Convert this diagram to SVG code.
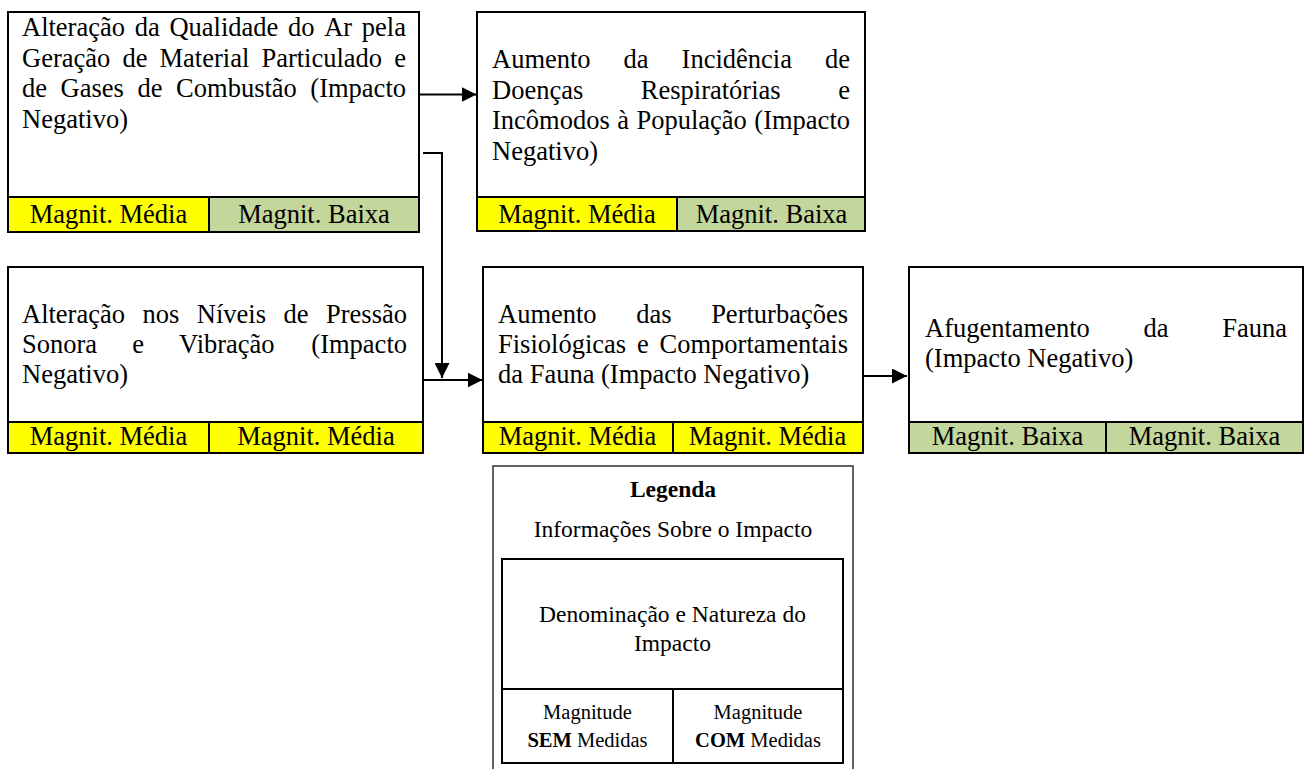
<svg xmlns="http://www.w3.org/2000/svg" width="1306" height="769" viewBox="0 0 1306 769">
  <style>
    .frame { fill: none; stroke: #000; stroke-width: 2; }
    .bg { fill: #fff; }
    .y { fill: #ffff00; }
    .g { fill: #c3d69b; }
    .ln { fill: none; stroke: #000; stroke-width: 2; }
    .t { font-family: "Liberation Serif", "Times New Roman", serif; font-size: 26.5px; fill: #000; }
    .s { font-family: "Liberation Serif", "Times New Roman", serif; font-size: 23.5px; fill: #000; text-anchor: middle; }
    .xs { font-family: "Liberation Serif", "Times New Roman", serif; font-size: 20.5px; fill: #000; text-anchor: middle; }
    .mid { text-anchor: middle; }
    .end { text-anchor: end; }
    .b { font-weight: bold; }
  </style>
  <defs>
    <marker id="arrow" markerUnits="userSpaceOnUse" markerWidth="15" markerHeight="15" refX="15" refY="7.5" orient="auto">
      <path d="M0,0 L15,7.5 L0,15 Z" fill="#000"/>
    </marker>
  </defs>

  <rect width="1306" height="769" fill="#fff"/>

  <!-- Air quality impact -->
  <g id="node-qualidade-ar">
    <rect class="bg" x="8" y="12" width="411" height="220"/>
    <rect class="y" x="8" y="197" width="201" height="35"/>
    <rect class="g" x="209" y="197" width="210" height="35"/>
    <rect class="frame" x="8" y="12" width="411" height="220"/>
    <path class="ln" d="M8,197 H419 M209,197 V232"/>
    <text class="t" y="36"><tspan x="22">Alteração</tspan><tspan x="134.7">da</tspan><tspan x="169.4">Qualidade</tspan><tspan x="288">do</tspan><tspan x="324.2">Ar</tspan></text>
    <text class="t end" x="406" y="36">pela</text>
    <text class="t" y="66.7"><tspan x="22">Geração</tspan><tspan x="122.4">de</tspan><tspan x="159.5">Material</tspan><tspan x="261.4">Particulado</tspan></text>
    <text class="t end" x="406" y="66.7">e</text>
    <text class="t" y="97.4"><tspan x="22">de</tspan><tspan x="60.6">Gases</tspan><tspan x="137.5">de</tspan><tspan x="176.1">Combustão</tspan></text>
    <text class="t end" x="406" y="97.4">(Impacto</text>
    <text class="t" x="22" y="128">Negativo)</text>
    <text class="t mid" x="108.5" y="223">Magnit. Média</text>
    <text class="t mid" x="314" y="223">Magnit. Baixa</text>
  </g>

  <!-- Respiratory diseases impact -->
  <g id="node-doencas">
    <rect class="bg" x="477" y="12" width="388" height="219"/>
    <rect class="y" x="477" y="197" width="200" height="34"/>
    <rect class="g" x="677" y="197" width="188" height="34"/>
    <rect class="frame" x="477" y="12" width="388" height="219"/>
    <path class="ln" d="M477,197 H865 M677,197 V231"/>
    <text class="t" y="68"><tspan x="492">Aumento</tspan><tspan x="623.6">da</tspan><tspan x="681.6">Incidência</tspan></text>
    <text class="t end" x="850" y="68">de</text>
    <text class="t" y="98.7"><tspan x="492">Doenças</tspan><tspan x="640.8">Respiratórias</tspan></text>
    <text class="t end" x="850" y="98.7">e</text>
    <text class="t" y="129.4"><tspan x="492">Incômodos</tspan><tspan x="617.2">à</tspan><tspan x="636.4">População</tspan></text>
    <text class="t end" x="850" y="129.4">(Impacto</text>
    <text class="t" x="492" y="160">Negativo)</text>
    <text class="t mid" x="577" y="223">Magnit. Média</text>
    <text class="t mid" x="771.5" y="223">Magnit. Baixa</text>
  </g>

  <!-- Noise and vibration impact -->
  <g id="node-pressao-sonora">
    <rect class="bg" x="8" y="267" width="415" height="186"/>
    <rect class="y" x="8" y="422" width="415" height="31"/>
    <rect class="frame" x="8" y="267" width="415" height="186"/>
    <path class="ln" d="M8,422 H423 M209,422 V453"/>
    <text class="t" y="323"><tspan x="22">Alteração</tspan><tspan x="142.5">nos</tspan><tspan x="196.8">Níveis</tspan><tspan x="283.5">de</tspan></text>
    <text class="t end" x="407" y="323">Pressão</text>
    <text class="t" y="353"><tspan x="22">Sonora</tspan><tspan x="132.2">e</tspan><tspan x="179.1">Vibração</tspan></text>
    <text class="t end" x="407" y="353">(Impacto</text>
    <text class="t" x="22" y="383">Negativo)</text>
    <text class="t mid" x="108.5" y="445">Magnit. Média</text>
    <text class="t mid" x="316" y="445">Magnit. Média</text>
  </g>

  <!-- Fauna disturbance impact -->
  <g id="node-perturbacoes">
    <rect class="bg" x="483" y="267" width="380" height="186"/>
    <rect class="y" x="483" y="422" width="380" height="31"/>
    <rect class="frame" x="483" y="267" width="380" height="186"/>
    <path class="ln" d="M483,422 H863 M673,422 V453"/>
    <text class="t" y="323"><tspan x="498">Aumento</tspan><tspan x="636.2">das</tspan></text>
    <text class="t end" x="848" y="323">Perturbações</text>
    <text class="t" y="353"><tspan x="498">Fisiológicas</tspan><tspan x="637">e</tspan></text>
    <text class="t end" x="848" y="353">Comportamentais</text>
    <text class="t" x="498" y="383">da Fauna (Impacto Negativo)</text>
    <text class="t mid" x="577.5" y="445">Magnit. Média</text>
    <text class="t mid" x="767.5" y="445">Magnit. Média</text>
  </g>

  <!-- Fauna displacement impact -->
  <g id="node-afugentamento">
    <rect class="bg" x="909" y="267" width="394" height="186"/>
    <rect class="g" x="909" y="422" width="394" height="31"/>
    <rect class="frame" x="909" y="267" width="394" height="186"/>
    <path class="ln" d="M909,422 H1303 M1106,422 V453"/>
    <text class="t" y="337"><tspan x="925">Afugentamento</tspan><tspan x="1143.6">da</tspan></text>
    <text class="t end" x="1287" y="337">Fauna</text>
    <text class="t" x="925" y="367">(Impacto Negativo)</text>
    <text class="t mid" x="1007.5" y="445">Magnit. Baixa</text>
    <text class="t mid" x="1204.5" y="445">Magnit. Baixa</text>
  </g>

  <!-- Legend -->
  <g id="legenda">
    <path d="M493,769 V466 H853 V769" fill="none" stroke="#333" stroke-width="1.5"/>
    <text class="s b" x="673" y="496.5">Legenda</text>
    <text class="s" x="673" y="537">Informações Sobre o Impacto</text>
    <rect class="frame" x="502" y="559" width="341" height="204"/>
    <path class="ln" d="M502,689 H843 M673,689 V763"/>
    <text class="s" x="672.5" y="622">Denominação e Natureza do</text>
    <text class="s" x="672.5" y="651">Impacto</text>
    <text class="xs" x="587.5" y="719">Magnitude</text>
    <text class="xs" x="587.5" y="747"><tspan class="b">SEM</tspan> Medidas</text>
    <text class="xs" x="758" y="719">Magnitude</text>
    <text class="xs" x="758" y="747"><tspan class="b">COM</tspan> Medidas</text>
  </g>

  <!-- Connectors -->
  <g id="connectors" class="ln" marker-end="url(#arrow)">
    <path d="M419,94.5 H476.5"/>
    <path d="M423,153 H442 V378"/>
    <path d="M423,380 H482.5"/>
    <path d="M863,376 H907"/>
  </g>
</svg>
